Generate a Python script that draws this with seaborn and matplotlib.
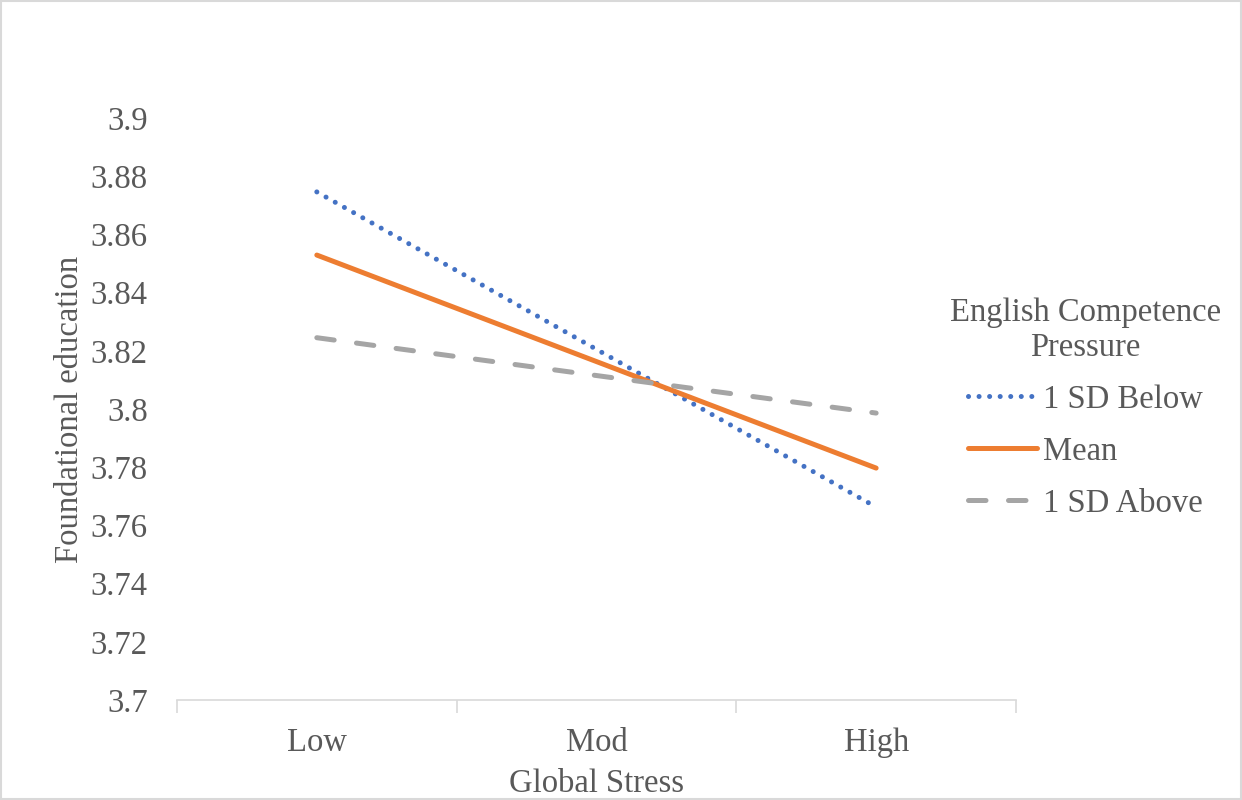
import matplotlib
matplotlib.use("Agg")
import matplotlib.pyplot as plt
import matplotlib.patches as mpatches
from matplotlib.ticker import FixedLocator, MultipleLocator, FuncFormatter
import numpy as np
import pandas as pd
import seaborn as sns

stress_levels = ["Low", "Mod", "High"]
below_1sd = [3.8746, 3.8205, 3.7663]
mean_vals = [3.8529, 3.8163, 3.7797]
above_1sd = [3.8245, 3.8115, 3.7986]
series_names = ["1 SD Below", "Mean", "1 SD Above"]

df = pd.DataFrame({
    "Global Stress": stress_levels * 3,
    "value": below_1sd + mean_vals + above_1sd,
    "group": np.repeat(series_names, 3),
})

sns.set_theme(style="white")
plt.rcParams["font.family"] = ["Liberation Serif", "DejaVu Serif"]
text_color = "#595959"
fs = 23.5

fig = plt.figure(figsize=(12.42, 8), dpi=100)
ax = fig.add_axes([0.1425, 0.125, 0.6755, 0.7275])

styles = {
    "1 SD Below": dict(color="#4472C4", dashes=(0.01, 2.1)),
    "Mean": dict(color="#ED7D31", dashes=None),
    "1 SD Above": dict(color="#A5A5A5", dashes=(3.5, 4.5)),
}
for name in series_names:
    sub = df[df["group"] == name]
    sns.lineplot(data=sub, x="Global Stress", y="value", ax=ax, sort=False,
                 color=styles[name]["color"], linewidth=3.6, label=name)
    line = ax.lines[-1]
    line.set_solid_capstyle("round")
    line.set_dash_capstyle("round")
    if styles[name]["dashes"] is not None:
        line.set_dashes(styles[name]["dashes"])

ax.set_xlim(-0.5, 2.5)
ax.set_ylim(3.7, 3.9)
ax.yaxis.set_major_locator(MultipleLocator(0.02))
ax.yaxis.set_major_formatter(FuncFormatter(lambda v, p: f"{round(v, 2):g}"))
ax.xaxis.set_minor_locator(FixedLocator([-0.5, 0.5, 1.5, 2.5]))
ax.tick_params(axis="x", which="major", length=0, pad=20, labelsize=fs, labelcolor=text_color)
ax.tick_params(axis="x", which="minor", length=9, width=1.2, color="#D9D9D9", direction="out", bottom=True)
ax.tick_params(axis="y", length=0, pad=21, labelsize=fs, labelcolor=text_color)

for side in ["top", "right", "left"]:
    ax.spines[side].set_visible(False)
ax.spines["bottom"].set_color("#D9D9D9")
ax.spines["bottom"].set_linewidth(1.2)

ax.set_xlabel("Global Stress", fontsize=fs, color=text_color, labelpad=7)
ax.set_ylabel("Foundational education", fontsize=fs, color=text_color, labelpad=4)

leg = fig.legend(handles=ax.lines, labels=series_names,
                 title="English Competence\nPressure", loc="center",
                 bbox_to_anchor=(0.874, 0.49), frameon=False, fontsize=fs,
                 title_fontsize=fs, handlelength=2.1, handletextpad=0.2,
                 labelspacing=0.66)
ax.get_legend().remove()
for t in leg.get_texts():
    t.set_color(text_color)
leg.get_title().set_color(text_color)
leg.get_title().set_multialignment("center")

fig.patches.append(mpatches.Rectangle((0.001, 0.001), 0.998, 0.998, transform=fig.transFigure,
                                      fill=False, edgecolor="#D9D9D9", linewidth=1.5))

fig.savefig("out.png", dpi=100)
